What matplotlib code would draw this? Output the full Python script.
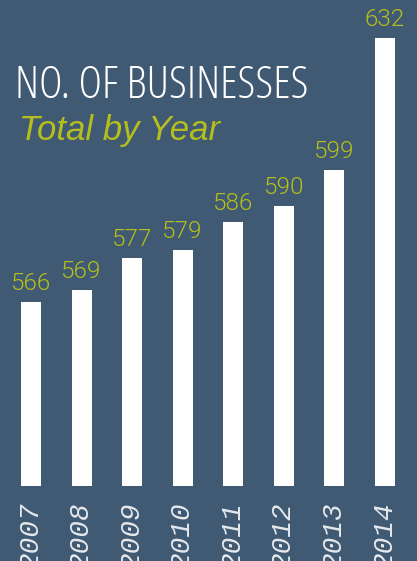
import matplotlib
matplotlib.use('Agg')
import matplotlib.pyplot as plt

years = ['2007', '2008', '2009', '2010', '2011', '2012', '2013', '2014']
businesses = [566, 569, 577, 579, 586, 590, 599, 632]

bg = '#415a73'
lime = '#b4be1c'
base = 520  # bars start here, not at zero

fig = plt.figure(figsize=(4.17, 5.61), dpi=100)
fig.patch.set_facecolor(bg)
ax = fig.add_axes([0, 0, 1, 1])
ax.set_facecolor(bg)

x = list(range(len(years)))
heights = [v - base for v in businesses]
ax.bar(x, heights, bottom=base, width=0.395, color='white')

for i, v in enumerate(businesses):
    ax.annotate(str(v), (i, v), xytext=(0, 8.3), textcoords='offset points',
                ha='center', va='baseline', color=lime, fontsize=17.5,
                family='Roboto', weight=300)
    ax.annotate(years[i], (i, base), xytext=(0, -12), textcoords='offset points',
                ha='center', va='top', rotation=90, color='#e6e9ec',
                fontsize=20, family='Liberation Mono', style='italic')

ax.set_xlim(-0.613, 7.633)
ax.set_ylim(501.25, 641.5)
ax.axis('off')

fig.text(15 / 417, 1 - 98 / 561, 'NO. OF BUSINESSES', color='white',
         fontsize=32.5, family='Open Sans', stretch='condensed', weight=300,
         ha='left', va='baseline')
fig.text(19 / 417, 1 - 140 / 561, 'Total by Year', color=lime,
         fontsize=25, family='Liberation Sans', style='italic',
         ha='left', va='baseline')

fig.savefig('out.png', dpi=100, facecolor=bg)
